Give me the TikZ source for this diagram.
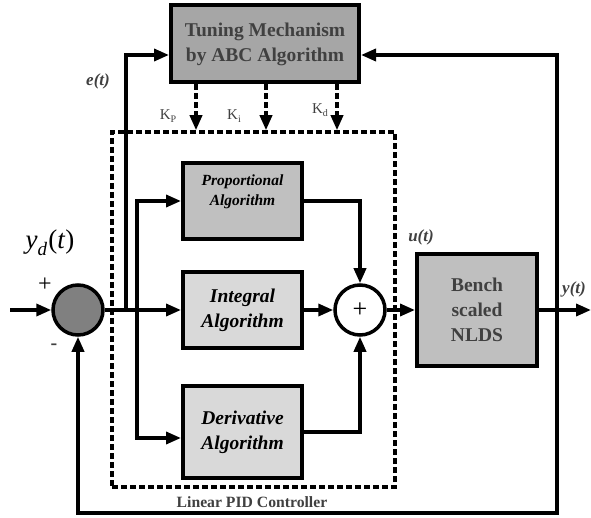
\documentclass[tikz,border=0pt]{standalone}
\usepackage{fontspec}
\setmainfont{Liberation Serif}
\usetikzlibrary{arrows.meta,calc}

\definecolor{tunefill}{HTML}{A6A6A6}
\definecolor{propfill}{HTML}{C0C0C0}
\definecolor{lightfill}{HTML}{D9D9D9}
\definecolor{plantfill}{HTML}{BFBFBF}
\definecolor{sumfill}{HTML}{808080}
\definecolor{textgray}{HTML}{404040}

\begin{document}
\begin{tikzpicture}[x=1pt,y=-1pt,
  tip/.style={-{Triangle[length=15pt,width=12pt]}},
  wire/.style={line width=3.5pt, tip},
  plain/.style={line width=3.5pt},
  dwire/.style={line width=3.5pt, dash pattern=on 6pt off 3pt, tip},
  blk/.style={draw, line width=4pt, inner sep=0pt, align=center},
  algtext/.style={align=center, font=\fontsize{19.5}{25}\selectfont\bfseries\itshape},
  sig/.style={font=\fontsize{17}{17}\selectfont\bfseries\itshape, text=textgray},
  gain/.style={font=\fontsize{15}{15}\selectfont, text=textgray},
  sumnode/.style={draw, circle, line width=3.5pt, minimum size=50pt, inner sep=0pt}
]
\useasboundingbox (0,0) rectangle (591,518);

% blocks
\node[blk, fill=tunefill, minimum width=188pt, minimum height=77pt,
      font=\fontsize{19.5}{25}\selectfont\bfseries, text=textgray]
      (tune) at (265,44) {Tuning Mechanism\\by ABC Algorithm};
\node[blk, fill=propfill, minimum width=119pt, minimum height=76pt] (prop) at (242.5,201) {};
\node[algtext, font=\fontsize{15.5}{20}\selectfont\bfseries\itshape] (proptext) at (242.5,192) {Proportional\\Algorithm};
\node[blk, fill=lightfill, minimum width=119pt, minimum height=75pt, algtext] (integ) at (242.5,310) {Integral\\Algorithm};
\node[blk, fill=lightfill, minimum width=119pt, minimum height=92pt, algtext] (deriv) at (242.5,432) {Derivative\\Algorithm};
\node[blk, fill=plantfill, minimum width=120pt, minimum height=111pt,
      font=\fontsize{19.5}{25}\selectfont\bfseries, text=textgray]
      (plant) at (477,310) {Bench\\scaled\\NLDS};

% summing junctions
\node[sumnode, fill=sumfill] (sumL) at (78,310) {};
\node[sumnode, fill=white, font=\fontsize{26}{26}\selectfont] (sumP) at (360,310) {+};

% branch points and free ends
\coordinate (in) at (10,310);
\coordinate (ebr) at (126,310);
\coordinate (br) at (137,310);
\coordinate (fbr) at (557,310);
\coordinate (fbb) at (557,513);
\coordinate (yout) at (591,310);
\coordinate (kpx) at (196,0);
\coordinate (kix) at (266,0);
\coordinate (kdx) at (337,0);

% signal paths
\draw[wire] (in) -- (sumL.west);
\draw[wire] (sumL.east) -- (integ.west);
\draw[wire] (ebr) |- ([yshift=-11pt]tune.west);
\draw[wire] (br) |- (prop.west);
\draw[wire] (br) |- ([yshift=-6pt]deriv.west);
\draw[wire] (prop.east) -| (sumP.north);
\draw[wire] (integ.east) -- (sumP.west);
\draw[wire] (deriv.east) -| (sumP.south);
\draw[wire] (sumP.east) -- (plant.west);
\draw[wire] (plant.east) -- (yout);
\draw[wire] (fbr) |- ([yshift=-11pt]tune.east);
\draw[wire] (fbr) -- (fbb) -| (sumL.south);

% PID controller frame
\node[draw, line width=3.5pt, dash pattern=on 6pt off 3pt, minimum width=283pt, minimum height=355pt, inner sep=0pt]
      (pid) at (253.5,309.5) {};
\node[font=\fontsize{15.7}{16}\selectfont\bfseries, text=textgray] (pidlabel) at (252,502) {Linear PID Controller};

% gains from the tuning block
\draw[dwire] (tune.south -| kpx) -- (pid.north -| kpx);
\draw[dwire] (tune.south -| kix) -- (pid.north -| kix);
\draw[dwire] (tune.south -| kdx) -- (pid.north -| kdx);
\node[gain] (kp) at (168,116) {K\raisebox{-0.35ex}{\fontsize{10}{10}\selectfont P}};
\node[gain] (ki) at (234,116) {K\raisebox{-0.35ex}{\fontsize{10}{10}\selectfont i}};
\node[gain] (kd) at (320,110) {K\raisebox{-0.35ex}{\fontsize{10}{10}\selectfont d}};

% signal labels
\node[sig] (et) at (98,81) {e(t)};
\node[sig] (ut) at (421,237) {u(t)};
\node[sig] (yt) at (574,289) {y(t)};
\node[font=\fontsize{27}{27}\selectfont] (yd) at (50,243)
      {\textit{y}\raisebox{-0.25em}{\fontsize{19}{19}\selectfont\textit{d}}\kern1pt(\textit{t})};
\node[font=\fontsize{24}{24}\selectfont] (plus) at (45,285) {+};
\node[font=\fontsize{20}{20}\selectfont\bfseries, text=textgray] (minus) at (54,347) {-};
\end{tikzpicture}
\end{document}
